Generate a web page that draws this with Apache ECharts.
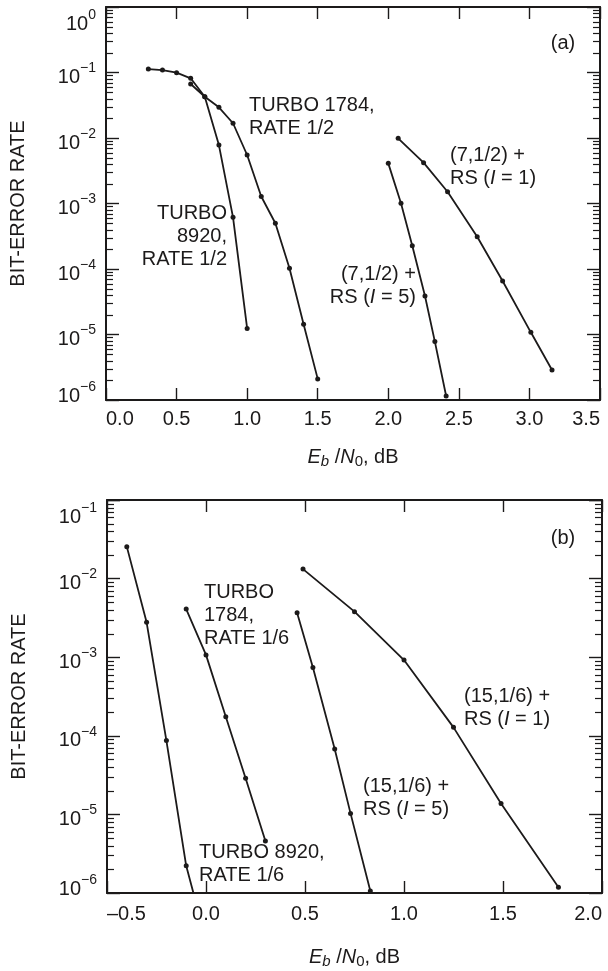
<!DOCTYPE html>
<html>
<head>
<meta charset="utf-8">
<script src="https://cdn.jsdelivr.net/npm/echarts@6/dist/echarts.min.js"></script>
<style>
  html, body { margin: 0; padding: 0; background: #ffffff; }
  #chart { width: 608px; height: 971px; }
</style>
</head>
<body>
<div id="chart"></div>
<script>
// ---- Panel (a): rate 1/2 codes ----
const ebnoTurbo8920Half = [0.3, 0.4, 0.5, 0.6, 0.7, 0.8, 0.9, 1.0];
const berTurbo8920Half  = [0.113, 0.109, 0.0993, 0.0815, 0.0427, 0.0078, 6.15e-4, 1.24e-5];
const ebnoTurbo1784Half = [0.6, 0.7, 0.8, 0.9, 1.0, 1.1, 1.2, 1.3, 1.4, 1.5];
const berTurbo1784Half  = [0.0667, 0.0427, 0.0294, 0.0168, 0.0055, 0.00128, 4.99e-4, 1.03e-4, 1.43e-5, 2.1e-6];
const ebnoConv7RsI5 = [2.0, 2.09, 2.17, 2.26, 2.33, 2.41];
const berConv7RsI5  = [0.0041, 0.00101, 2.27e-4, 3.87e-5, 7.8e-6, 1.15e-6];
const ebnoConv7RsI1 = [2.07, 2.25, 2.42, 2.63, 2.81, 3.01, 3.16];
const berConv7RsI1  = [0.0099, 0.0042, 0.00151, 3.11e-4, 6.56e-5, 1.08e-5, 2.87e-6];

// ---- Panel (b): rate 1/6 codes ----
const ebnoTurbo8920Sixth = [-0.4, -0.3, -0.2, -0.1, 0.0];
const berTurbo8920Sixth  = [0.0255, 0.00278, 8.7e-5, 2.22e-6, 2.5e-7];
const ebnoTurbo1784Sixth = [-0.1, 0.0, 0.1, 0.2, 0.3];
const berTurbo1784Sixth  = [0.0041, 0.00107, 1.75e-4, 2.88e-5, 4.6e-6];
const ebnoConv15RsI5 = [0.46, 0.54, 0.65, 0.73, 0.83];
const berConv15RsI5  = [0.00368, 7.4e-4, 6.8e-5, 1.03e-5, 1.06e-6];
const ebnoConv15RsI1 = [0.49, 0.75, 1.0, 1.25, 1.49, 1.78];
const berConv15RsI1  = [0.0132, 0.0038, 9.2e-4, 1.28e-4, 1.38e-5, 1.18e-6];

// ---- Axis ranges and tick labels ----
const ebnoRangeA = [0, 3.5];
const ebnoRangeB = [-0.5, 2.0];
const ebnoStep = 0.5;
const berRangeA = [1e-6, 1];
const berRangeB = [1e-6, 0.1];
const berDecadesA = [0, -1, -2, -3, -4, -5, -6];
const berDecadesB = [-1, -2, -3, -4, -5, -6];
const logMinorMantissas = [2, 3, 4, 5, 6, 7, 8, 9];

const INK = '#1c1a1a';
const FONT = '"Liberation Sans", Arial, Helvetica, sans-serif';

function zip(xs, ys) { return xs.map((x, i) => [x, ys[i]]); }

// values of the 2..9 sub-decade ticks on a log axis
function minorTickValues(range) {
  const lo = Math.round(Math.log10(range[0]));
  const hi = Math.round(Math.log10(range[1]));
  const out = [];
  for (let e = lo; e < hi; e++) {
    logMinorMantissas.forEach(m => out.push(Number((m * Math.pow(10, e)).toPrecision(3))));
  }
  return out;
}

const powRich = {
  b: { fontFamily: FONT, fontSize: 20, fill: INK, lineHeight: 26, verticalAlign: 'bottom' },
  s: { fontFamily: FONT, fontSize: 14, fill: INK, lineHeight: 12, verticalAlign: 'top' }
};

const ebnoTitle = '{i|E}{sb|b}{n| /}{i|N}{sz|0}{n|, dB}';
const ebnoRich = {
  i:  { fontFamily: FONT, fontSize: 20, fontStyle: 'italic', fill: INK, lineHeight: 24 },
  sb: { fontFamily: FONT, fontSize: 15, fontStyle: 'italic', fill: INK, lineHeight: 12, verticalAlign: 'bottom' },
  sz: { fontFamily: FONT, fontSize: 15, fill: INK, lineHeight: 12, verticalAlign: 'bottom' },
  n:  { fontFamily: FONT, fontSize: 20, fill: INK, lineHeight: 24 }
};

const lineStyleAxis = { show: true, onZero: false, lineStyle: { color: INK, width: 2 } };
const tickStyle = (len) => ({ show: true, inside: true, length: len, lineStyle: { color: INK, width: 1.4 } });

function bottomXAxis(gridIndex, range, margin) {
  return {
    type: 'value', gridIndex,
    min: range[0], max: range[1], interval: ebnoStep,
    axisLine: lineStyleAxis,
    axisTick: tickStyle(12),
    axisLabel: {
      margin, fontFamily: FONT, fontSize: 20, color: INK,
      alignMinLabel: 'left', alignMaxLabel: 'right',
      formatter: function (v) { return v < 0 ? '\u2013' + Math.abs(v).toFixed(1) : v.toFixed(1); }
    },
    splitLine: { show: false }
  };
}

function topXAxis(gridIndex, range) {
  return {
    type: 'value', gridIndex, position: 'top',
    min: range[0], max: range[1], interval: ebnoStep,
    axisLine: lineStyleAxis,
    axisTick: tickStyle(12),
    axisLabel: { show: false },
    splitLine: { show: false }
  };
}

function leftYAxis(gridIndex, range) {
  return {
    type: 'log', gridIndex,
    min: range[0], max: range[1],
    name: 'BIT-ERROR RATE', nameLocation: 'middle', nameGap: 78,
    nameTextStyle: { fontFamily: FONT, fontSize: 20, color: INK },
    axisLine: lineStyleAxis,
    axisTick: tickStyle(13),
    axisLabel: { show: false },
    splitLine: { show: false }
  };
}

function rightYAxis(gridIndex, range) {
  return {
    type: 'log', gridIndex, position: 'right',
    min: range[0], max: range[1],
    axisLine: lineStyleAxis,
    axisTick: tickStyle(13),
    axisLabel: { show: false },
    splitLine: { show: false }
  };
}

function curve(name, xs, ys, xIdx, yIdx) {
  return {
    type: 'line', name, xAxisIndex: xIdx, yAxisIndex: yIdx,
    data: zip(xs, ys),
    symbol: 'circle', symbolSize: 5,
    lineStyle: { color: INK, width: 1.8 },
    itemStyle: { color: INK }
  };
}

const labelRich = {
  i: { fontFamily: FONT, fontSize: 20, fontStyle: 'italic', fill: INK }
};

function note(id, x, y, text, align) {
  return {
    id, type: 'text', x, y, silent: true,
    style: {
      text, fill: INK, fontFamily: FONT, fontSize: 20, lineHeight: 23,
      align: align || 'left', verticalAlign: 'middle', rich: labelRich
    }
  };
}

const option = {
  animation: false,
  grid: [
    { left: 106, right: 8, top: 7, height: 393, containLabel: false, outerBoundsMode: 'none' },
    { left: 107, right: 6, top: 500, height: 393, containLabel: false, outerBoundsMode: 'none' }
  ],
  xAxis: [
    bottomXAxis(0, ebnoRangeA, 9),
    topXAxis(0, ebnoRangeA),
    bottomXAxis(1, ebnoRangeB, 11),
    topXAxis(1, ebnoRangeB)
  ],
  yAxis: [
    leftYAxis(0, berRangeA),
    rightYAxis(0, berRangeA),
    leftYAxis(1, berRangeB),
    rightYAxis(1, berRangeB)
  ],
  series: [
    curve('Turbo 8920, rate 1/2', ebnoTurbo8920Half, berTurbo8920Half, 0, 0),
    curve('Turbo 1784, rate 1/2', ebnoTurbo1784Half, berTurbo1784Half, 0, 0),
    curve('(7,1/2) + RS (I = 5)', ebnoConv7RsI5, berConv7RsI5, 0, 0),
    curve('(7,1/2) + RS (I = 1)', ebnoConv7RsI1, berConv7RsI1, 0, 0),
    curve('Turbo 8920, rate 1/6', ebnoTurbo8920Sixth, berTurbo8920Sixth, 2, 2),
    curve('Turbo 1784, rate 1/6', ebnoTurbo1784Sixth, berTurbo1784Sixth, 2, 2),
    curve('(15,1/6) + RS (I = 5)', ebnoConv15RsI5, berConv15RsI5, 2, 2),
    curve('(15,1/6) + RS (I = 1)', ebnoConv15RsI1, berConv15RsI1, 2, 2)
  ],
  graphic: [
    note('noteA', 563, 43, '(a)', 'center'),
    note('t1784a', 249, 117, 'TURBO 1784,\nRATE 1/2'),
    note('t8920a', 227, 236, 'TURBO\n8920,\nRATE 1/2', 'right'),
    note('rs1a', 450, 167, '(7,1/2) +\nRS ({i|I} = 1)'),
    note('rs5a', 416, 286, '(7,1/2) +\nRS ({i|I} = 5)', 'right'),
    note('noteB', 563, 538, '(b)', 'center'),
    note('t1784b', 204, 615, 'TURBO\n1784,\nRATE 1/6'),
    note('t8920b', 199, 864, 'TURBO 8920,\nRATE 1/6'),
    note('rs5b', 363, 798, '(15,1/6) +\nRS ({i|I} = 5)'),
    note('rs1b', 464, 708, '(15,1/6) +\nRS ({i|I} = 1)')
  ]
};

const chart = echarts.init(document.getElementById('chart'));
chart.setOption(option);

// Decorations placed through each panel's own axes:
// power-of-ten tick labels, 2..9 sub-decade ticks on both frame edges, axis titles.
function panelDecor(prefix, xRange, berRange, decades, xIdx, yIdx, titleGap) {
  const out = [];
  const xL = chart.convertToPixel({ xAxisIndex: xIdx }, xRange[0]);
  const xR = chart.convertToPixel({ xAxisIndex: xIdx }, xRange[1]);
  const st = { stroke: INK, lineWidth: 1.2 };
  minorTickValues(berRange).forEach((v, k) => {
    const yPix = chart.convertToPixel({ yAxisIndex: yIdx }, v);
    if (typeof yPix !== 'number' || !isFinite(yPix)) return;
    const y = Math.round(yPix) + 0.5;
    out.push({ id: prefix + 'L' + k, type: 'line', silent: true, z: 10,
      shape: { x1: xL, y1: y, x2: xL + 7, y2: y }, style: st });
    out.push({ id: prefix + 'R' + k, type: 'line', silent: true, z: 10,
      shape: { x1: xR, y1: y, x2: xR - 7, y2: y }, style: st });
  });
  const top = Math.max.apply(null, decades);
  const bottom = Math.min.apply(null, decades);
  decades.forEach((e, k) => {
    const yPix = chart.convertToPixel({ yAxisIndex: yIdx }, Math.pow(10, e));
    if (typeof yPix !== 'number' || !isFinite(yPix)) return;
    // keep the end labels inside the frame height
    const shift = e === top ? 14 : (e === bottom ? -7 : 2);
    out.push({ id: prefix + 'Y' + k, type: 'text', silent: true,
      x: xL - 10, y: yPix + shift,
      style: {
        text: '{b|10}{s|' + (e < 0 ? '\u2212' + (-e) : String(e)) + '}',
        align: 'right', verticalAlign: 'middle', rich: powRich
      } });
  });
  const yBase = chart.convertToPixel({ yAxisIndex: yIdx }, berRange[0]);
  out.push({ id: prefix + 'T', type: 'text', silent: true,
    x: (xL + xR) / 2, y: yBase + titleGap,
    style: { text: ebnoTitle, align: 'center', verticalAlign: 'middle', rich: ebnoRich } });
  return out;
}

let decor = [];
try { decor = decor.concat(panelDecor('pa', ebnoRangeA, berRangeA, berDecadesA, 0, 0, 57)); } catch (e) {}
try { decor = decor.concat(panelDecor('pb', ebnoRangeB, berRangeB, berDecadesB, 2, 2, 64)); } catch (e) {}
chart.setOption({ graphic: decor });
</script>
</body>
</html>
